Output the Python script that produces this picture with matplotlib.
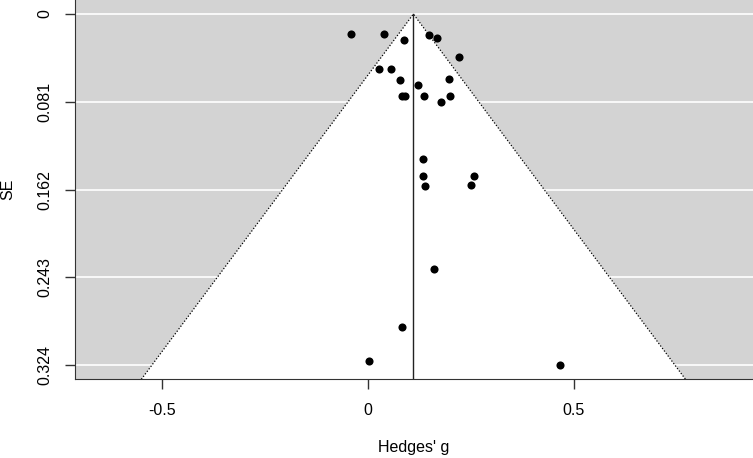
import matplotlib.pyplot as plt
import numpy as np

plt.rcParams['font.family'] = ['Liberation Sans', 'DejaVu Sans']
plt.rcParams['font.size'] = 11.5

# effect sizes (Hedges' g) and standard errors
g_vals = [-0.041, 0.039, 0.088, 0.149, 0.169, 0.222, 0.027, 0.057, 0.078, 0.122,
          0.197, 0.084, 0.090, 0.137, 0.199, 0.177, 0.134, 0.134, 0.138, 0.258,
          0.251, 0.161, 0.084, 0.004, 0.467]
se_vals = [0.0185, 0.0185, 0.0237, 0.0190, 0.0225, 0.0398, 0.0509, 0.0509, 0.0610, 0.0653,
           0.0595, 0.0754, 0.0754, 0.0754, 0.0754, 0.0810, 0.1334, 0.1491, 0.1590, 0.1491,
           0.1575, 0.2354, 0.2890, 0.3199, 0.324]
pooled = 0.1107
se_max = 0.324
y_ticks = [0, 0.081, 0.162, 0.243, 0.324]
y_ticklabels = ['0', '0.081', '0.162', '0.243', '0.324']
x_ticks = [-0.5, 0, 0.5]
x_ticklabels = ['-0.5', '0', '0.5']

fig = plt.figure(figsize=(7.53, 4.58), dpi=100)
ax = fig.add_axes([74.7 / 753, 1 - 379.3 / 458, 1 - 74.7 / 753, 379.3 / 458])

pad = se_max * 0.04
y_lo, y_hi = -pad, se_max + pad
ax.set_xlim(-0.7115, 0.935)
ax.set_ylim(y_hi, y_lo)

ax.set_facecolor('#d3d3d3')
for t in y_ticks:
    ax.axhline(t, color='white', lw=1.2, zorder=1)

# pseudo confidence region
half = 1.96 * y_hi
fx = [pooled - half, pooled, pooled + half]
fy = [y_hi, 0, y_hi]
ax.fill(fx, fy, color='white', zorder=2, lw=0)
ax.plot(fx, fy, color='black', ls=(0, (1, 1.5)), lw=0.9, zorder=3)
ax.plot([pooled, pooled], [0, y_hi], color='#222222', lw=1, zorder=3)

ax.scatter(g_vals, se_vals, s=34, color='black', zorder=4, lw=0)

ax.spines['top'].set_visible(False)
ax.spines['right'].set_visible(False)
ax.spines['left'].set_color('#333333')
ax.spines['bottom'].set_color('#333333')

ax.set_xticks(x_ticks)
ax.set_xticklabels(x_ticklabels)
ax.set_yticks(y_ticks)
ax.set_yticklabels(y_ticklabels, rotation=90, va='center')
ax.tick_params(axis='both', length=7, width=1, color='#333333')
ax.tick_params(axis='x', pad=10)
ax.tick_params(axis='y', pad=9)

ax.set_xlabel("Hedges' g", labelpad=16)
ax.set_ylabel('SE', labelpad=16)

fig.savefig('out.png', dpi=100)
